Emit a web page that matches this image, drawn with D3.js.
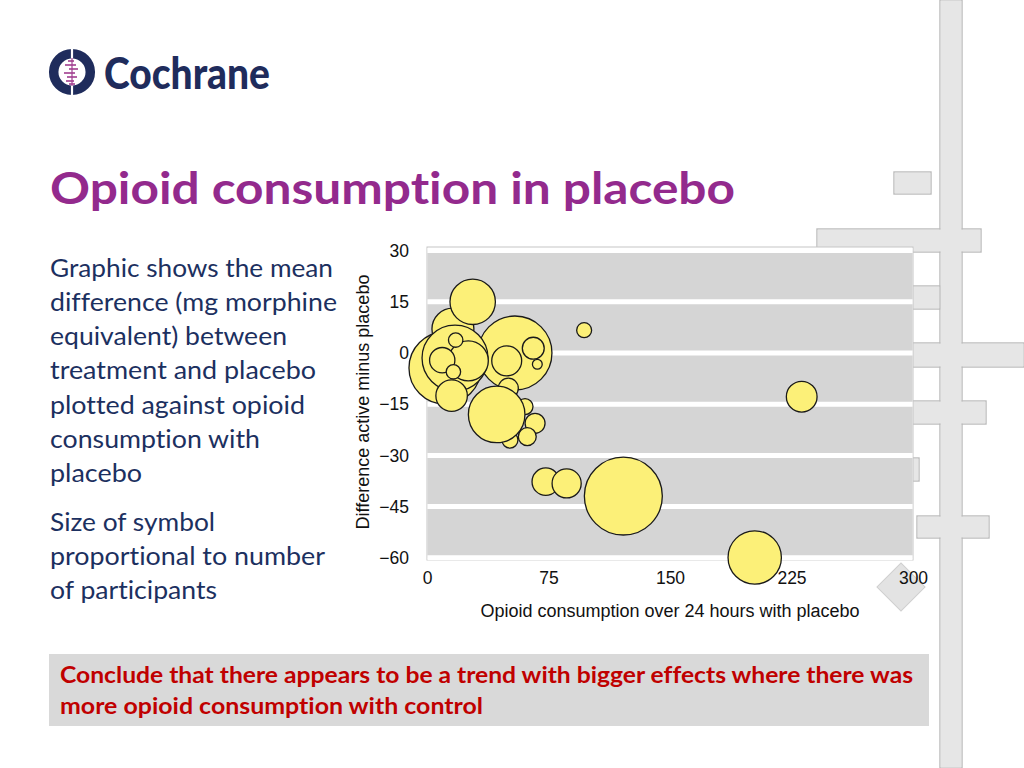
<!DOCTYPE html>
<html>
<head>
<meta charset="utf-8">
<script src="https://cdn.jsdelivr.net/npm/d3@7"></script>
<style>
  body { margin: 0; background: #fff; }
  svg { display: block; }
  text { font-variant-ligatures: none; }
</style>
</head>
<body>
<script>
// the canvas size
var width = 1024
var height = 768

// chart data: one entry per study
const consumption = [16, 28.2, 54.3, 11.1, 17.3, 66.7, 61.9, 51.2, 50.2, 60.5, 43, 49.2, 65.6, 68.1, 25.5, 9.4, 17.7, 16.3, 15.2, 97, 231.3, 121.2, 202.3, 73.3, 86.2]
const difference  = [7, 15.0, 0, -4.4, -1.5, -20.6, -24.5, -25.5, -10.3, -15.7, -18, -2.3, 1.4, -3.3, -2.3, -2.1, 3.8, -5.5, -12.5, 6.7, -12.8, -41.9, -59.9, -37.7, -38.2]
const participants = [110, 129, 342, 324, 272, 25, 20, 16, 25, 16, 200, 56, 30, 6, 100, 40, 13, 13, 62, 14, 59, 380, 178, 47, 53]

const xTicks = [0, 75, 150, 225, 300]
const yTicks = [30, 15, 0, -15, -30, -45, -60]

const titleText = "Opioid consumption in placebo"
const bodyLines = ["Graphic shows the mean", "difference (mg morphine", "equivalent) between", "treatment and placebo", "plotted against opioid", "consumption with", "placebo"]
const bodyWidths = [283, 287, 237, 266, 255, 210, 92]
const sizeLines = ["Size of symbol", "proportional to number", "of participants"]
const sizeWidths = [165, 275, 167]
const noteLines = ["Conclude that there appears to be a trend with bigger effects where there was", "more opioid consumption with control"]
const noteWidths = [853, 423]

const svg = d3.select("body").append("svg")
  .attr("width", width)
  .attr("height", height)

// ---- slide decoration on the right (merged light grey bars)
var deco = [
  [940, 0, 22, 768],
  [817, 229, 164, 23],
  [880, 286, 60, 23],
  [880, 343, 144, 24],
  [880, 401, 106, 23],
  [880, 458, 39, 23],
  [917, 516, 72, 22],
  [894, 172, 37, 22]
]
svg.append("g").selectAll("rect").data(deco).enter().append("rect")
  .attr("x", d => d[0]).attr("y", d => d[1]).attr("width", d => d[2]).attr("height", d => d[3])
  .style("fill", "none").style("stroke", "#bababa").style("stroke-width", 1.4)
svg.append("g").selectAll("rect").data(deco).enter().append("rect")
  .attr("x", d => d[0] + 0.6).attr("y", d => d[1] + 0.6).attr("width", d => d[2] - 1.2).attr("height", d => d[3] - 1.2)
  .style("fill", "#e6e6e6")

// diamond behind the last x label
svg.append("rect")
  .attr("x", -17).attr("y", -17).attr("width", 34).attr("height", 34)
  .attr("transform", "translate(901,587) rotate(45)")
  .style("fill", "#e3e3e3").style("stroke", "#cfcfcf")

// ---- logo
var logo = svg.append("g").attr("transform", "translate(72,72)")
logo.append("circle").attr("r", 18.3).style("fill", "none").style("stroke", "#1f2c5c").style("stroke-width", 9.5)
logo.append("line").attr("x1", 0).attr("x2", 0).attr("y1", -24).attr("y2", 24).style("stroke", "#fff").style("stroke-width", 2.2)
logo.append("line").attr("x1", 0).attr("x2", 0).attr("y1", -14).attr("y2", 14).style("stroke", "#a03e8f").style("stroke-width", 1.2)
var tickRows = [[-11, -4, 2], [-7, -7, 4], [-3, -3, 6], [1, -8, 3], [5, -5, 5], [9, -6, 2], [12, -3, 3]]
logo.selectAll("line.t").data(tickRows).enter().append("line")
  .attr("x1", d => d[1]).attr("x2", d => d[2]).attr("y1", d => d[0]).attr("y2", d => d[0])
  .style("stroke", "#a03e8f").style("stroke-width", 1.6)
svg.append("text")
  .attr("x", 104).attr("y", 89)
  .attr("textLength", 166).attr("lengthAdjust", "spacingAndGlyphs")
  .style("font-family", "Lato").style("font-weight", 900).style("font-size", "44px")
  .style("fill", "#1f2c5c")
  .text("Cochrane")

// ---- title and text
svg.append("text")
  .attr("x", 50).attr("y", 204)
  .attr("textLength", 685).attr("lengthAdjust", "spacingAndGlyphs")
  .style("font-family", "Lato").style("font-weight", 700).style("font-size", "44px")
  .style("fill", "#932a8d")
  .text(titleText)

svg.append("g").selectAll("text").data(bodyLines).enter().append("text")
  .attr("x", 50).attr("y", (d, i) => 276.5 + i * 34.3)
  .attr("textLength", (d, i) => bodyWidths[i]).attr("lengthAdjust", "spacingAndGlyphs")
  .style("font-family", "Lato").style("font-size", "25px").style("fill", "#1c3060")
  .text(d => d)

svg.append("g").selectAll("text").data(sizeLines).enter().append("text")
  .attr("x", 50).attr("y", (d, i) => 530.5 + i * 34.3)
  .attr("textLength", (d, i) => sizeWidths[i]).attr("lengthAdjust", "spacingAndGlyphs")
  .style("font-family", "Lato").style("font-size", "25px").style("fill", "#1c3060")
  .text(d => d)

// ---- conclusion box
svg.append("rect").attr("x", 49).attr("y", 654).attr("width", 880).attr("height", 72).style("fill", "#d9d9d9")
svg.append("g").selectAll("text").data(noteLines).enter().append("text")
  .attr("x", 60).attr("y", (d, i) => 683 + i * 31)
  .attr("textLength", (d, i) => noteWidths[i]).attr("lengthAdjust", "spacingAndGlyphs")
  .style("font-family", "Lato").style("font-weight", 700).style("font-size", "22px").style("fill", "#c00000")
  .text(d => d)

// ---- the bubble chart
var x = d3.scaleLinear().domain([0, 300]).range([427, 913])
var y = d3.scaleLinear().domain([-60, 30]).range([557.8, 250.6])
var r = d3.scaleSqrt().domain([0, 400]).range([0, 40])

svg.append("rect")
  .attr("x", x(0)).attr("y", 247).attr("width", x(300) - x(0)).attr("height", 313)
  .style("fill", "#fff").style("stroke", "#c6c6c6")
svg.append("rect")
  .attr("x", x(0) + 0.5).attr("y", y(30)).attr("width", x(300) - x(0) - 1).attr("height", y(-60) - y(30))
  .style("fill", "#d5d5d5")
svg.append("g").selectAll("line").data(yTicks).enter().append("line")
  .attr("x1", x(0) + 0.5).attr("x2", x(300) - 0.5)
  .attr("y1", d => y(d)).attr("y2", d => y(d))
  .style("stroke", "#fff").style("stroke-width", 5)

var sign = svg.append("g").selectAll("circle")
  .data(consumption.map((c, i) => ({c: c, d: difference[i], n: participants[i]})))
  .enter().append("circle")
  .attr("cx", d => x(d.c))
  .attr("cy", d => y(d.d))
  .attr("r", d => r(d.n))
  .style("fill", "#fcf078")
  .style("stroke", "#1a1a1a")
  .style("stroke-width", 1.3)

// axes: labels only
var yAxis = svg.append("g").attr("transform", "translate(" + x(0) + ",0)")
  .call(d3.axisLeft(y).tickValues(yTicks).tickSize(0).tickPadding(18))
var xAxis = svg.append("g").attr("transform", "translate(0,560)")
  .call(d3.axisBottom(x).tickValues(xTicks).tickSize(0).tickPadding(12))
svg.selectAll(".domain").remove()
svg.selectAll(".tick text")
  .style("font-family", "Liberation Sans, Arial").style("font-size", "17.5px").style("fill", "#111")

svg.append("text")
  .attr("x", 670).attr("y", 617)
  .attr("text-anchor", "middle")
  .style("font-family", "Liberation Sans, Arial").style("font-size", "18px").style("fill", "#111")
  .text("Opioid consumption over 24 hours with placebo")
svg.append("text")
  .attr("transform", "translate(369,402) rotate(-90)")
  .attr("text-anchor", "middle")
  .style("font-family", "Liberation Sans, Arial").style("font-size", "18px").style("fill", "#111")
  .text("Difference active minus placebo")
</script>
</body>
</html>
